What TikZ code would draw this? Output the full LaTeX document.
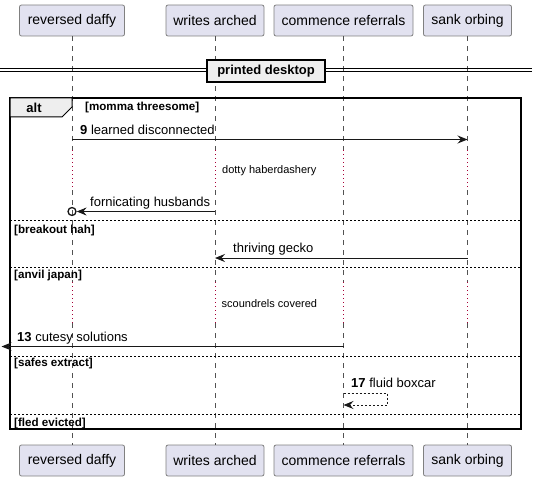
\documentclass[tikz,border=0pt]{standalone}
\usepackage{fontspec}
\setmainfont{Liberation Sans}
\usetikzlibrary{arrows.meta}
\definecolor{partfill}{HTML}{E2E2F0}
\definecolor{partline}{HTML}{181818}
\definecolor{grpfill}{HTML}{EEEEEE}
\definecolor{delayred}{HTML}{A80036}
\begin{document}
\begin{tikzpicture}[x=1pt,y=-1pt,
  part/.style={draw=partline!55, line width=0.8pt, fill=partfill, rounded corners=2pt,
    minimum height=31pt, inner sep=0pt, font=\fontsize{14}{16}\selectfont},
  life/.style={draw=partline!75, line width=0.6pt, dash pattern=on 5pt off 5pt},
  delay/.style={draw=delayred, line width=0.8pt, dash pattern=on 1pt off 3pt},
  msg/.style={draw=partline, line width=0.9pt, -{Stealth[length=10pt,width=8pt,inset=3.5pt]}},
  retmsg/.style={msg, dash pattern=on 2pt off 2pt},
  lbl/.style={anchor=base west, inner sep=0pt, font=\fontsize{13}{15}\selectfont},
  grplbl/.style={anchor=base west, inner sep=0pt, font=\fontsize{11.6}{13}\selectfont\bfseries},
  dlbl/.style={anchor=base west, inner sep=0pt, font=\fontsize{11}{13}\selectfont},
  grpsep/.style={draw=black, line width=0.8pt, dash pattern=on 2pt off 2pt},
  frm/.style={draw=black, line width=1.5pt},
]
\useasboundingbox (0,0) rectangle (537,481);

% participants
\node[part, minimum width=105pt] (rdT) at (72,20.5) {reversed daffy};
\node[part, minimum width=98pt]  (waT) at (215,20.5) {writes arched};
\node[part, minimum width=139pt] (crT) at (343.5,20.5) {commence referrals};
\node[part, minimum width=88pt]  (soT) at (467.5,20.5) {sank orbing};
\node[part, minimum width=105pt] (rdB) at (72,460.5) {reversed daffy};
\node[part, minimum width=98pt]  (waB) at (215,460.5) {writes arched};
\node[part, minimum width=139pt] (crB) at (343.5,460.5) {commence referrals};
\node[part, minimum width=88pt]  (soB) at (467.5,460.5) {sank orbing};

% delay marks
\coordinate (d1a) at (0,150);
\coordinate (d1b) at (0,190);
\coordinate (d2a) at (0,282);
\coordinate (d2b) at (0,323);

\foreach \p in {rd,wa,cr,so}{
  \draw[life] (\p T.south) -- (\p T.south |- d1a);
  \draw[delay] (\p T.south |- d1a) -- (\p T.south |- d1b);
  \draw[life] (\p T.south |- d1b) -- (\p T.south |- d2a);
  \draw[delay] (\p T.south |- d2a) -- (\p T.south |- d2b);
  \draw[life] (\p T.south |- d2b) -- (\p B.north);
}

% separator
\coordinate (sepL) at (0,70);
\coordinate (sepR) at (532,70);
\draw[line width=0.9pt] ([yshift=-1.6pt]sepL) -- ([yshift=-1.6pt]sepR);
\draw[line width=0.9pt] ([yshift=1.6pt]sepL) -- ([yshift=1.6pt]sepR);
\node[draw=black, line width=1.5pt, fill=grpfill, minimum width=118pt, minimum height=22pt,
  inner sep=0pt, font=\fontsize{13}{15}\selectfont\bfseries] (sep) at (266,71) {printed desktop};

% alt frame
\draw[frm] (10,98) rectangle (521,429);
\draw[draw=black, line width=1pt, fill=grpfill] (10,98) -- (72,98) -- (72,107) -- (62,117) -- (10,117) -- cycle;
\node[inner sep=0pt, font=\fontsize{13}{15}\selectfont\bfseries] (alt) at (34,107.5) {alt};
\node[grplbl] (g1) at (85,111) {[momma threesome]};

% message 9
\coordinate (m9) at (0,139.5);
\draw[msg] (rdT.south |- m9) -- (soT.south |- m9);
\node[lbl] (l9) at (80,134.5) {\textbf{9} learned disconnected};

% delay 1 text
\node[dlbl] (dl1) at (222,173) {dotty haberdashery};

% fornicating husbands
\node[circle, draw=partline, line width=1.3pt, minimum size=8pt, inner sep=0pt] (oc) at (72,211.5) {};
\draw[msg] (waT.south |- oc) -- (oc.east);
\node[lbl] (l10) at (90,206.5) {fornicating husbands};

% else breakout hah
\coordinate (e1L) at (10,220.5);
\coordinate (e1R) at (521,220.5);
\draw[grpsep] (e1L) -- (e1R);
\node[grplbl] (g2) at (14,233) {[breakout hah]};

% thriving gecko
\coordinate (m11) at (0,258);
\draw[msg] (soT.south |- m11) -- (waT.south |- m11);
\node[lbl] (l11) at (233,252.5) {thriving gecko};

% else anvil japan
\coordinate (e2L) at (10,267.5);
\coordinate (e2R) at (521,267.5);
\draw[grpsep] (e2L) -- (e2R);
\node[grplbl] (g3) at (14,278.5) {[anvil japan]};

% delay 2 text
\node[dlbl] (dl2) at (221.5,307) {scoundrels covered};

% message 13
\coordinate (m13) at (1.5,346.5);
\draw[msg] (crT.south |- m13) -- (m13);
\node[lbl] (l13) at (17,341) {\textbf{13} cutesy solutions};

% else safes extract
\coordinate (e3L) at (10,356);
\coordinate (e3R) at (521,356);
\draw[grpsep] (e3L) -- (e3R);
\node[grplbl] (g4) at (14,366) {[safes extract]};

% self message 17
\coordinate (s1) at (387,393);
\coordinate (s2) at (387,405);
\draw[retmsg] (crT.south |- s1) -- (s1) -- (s2) -- (crT.south |- s2);
\node[lbl] (l17) at (351,387) {\textbf{17} fluid boxcar};

% else fled evicted
\coordinate (e4L) at (10,414.5);
\coordinate (e4R) at (521,414.5);
\draw[grpsep] (e4L) -- (e4R);
\node[grplbl] (g5) at (14,426.5) {[fled evicted]};
\end{tikzpicture}
\end{document}
